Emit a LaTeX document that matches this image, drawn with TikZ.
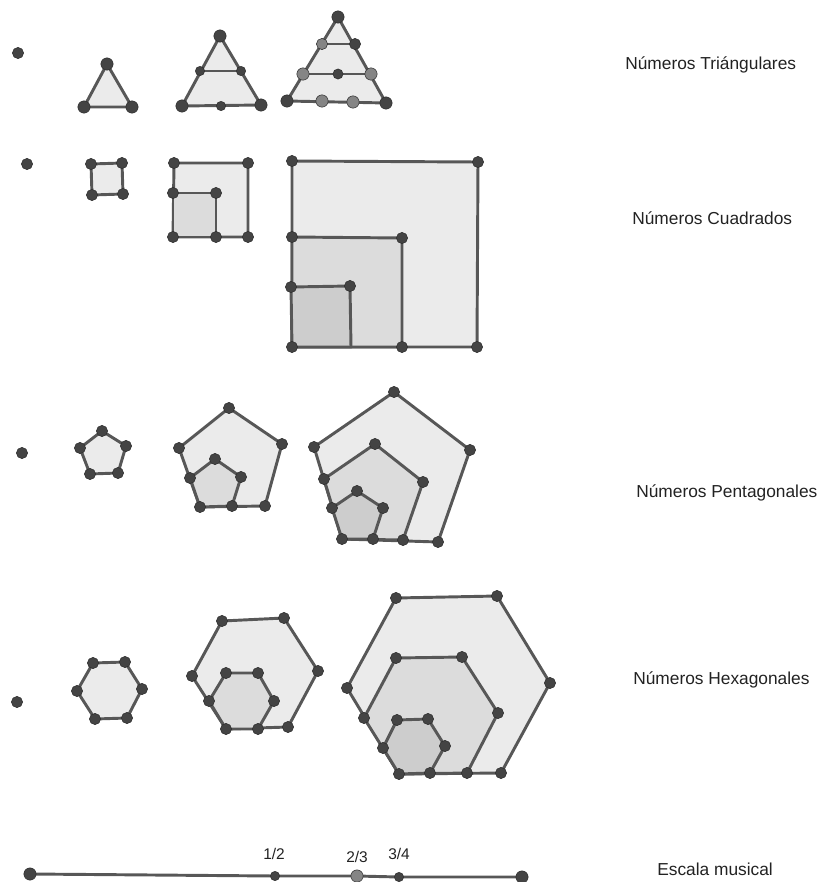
\documentclass[tikz,border=0pt]{standalone}
\usepackage{fontspec}
\setmainfont{Liberation Sans}
\usepackage{xcolor}
\definecolor{edgegray}{HTML}{575757}
\definecolor{fillA}{HTML}{EBEBEB}
\definecolor{fillB}{HTML}{DCDCDC}
\definecolor{fillC}{HTML}{CDCDCD}
\definecolor{dotdark}{HTML}{444444}
\definecolor{dotlight}{HTML}{858585}
\definecolor{dotrim}{HTML}{2E2E2E}
\definecolor{txtgray}{HTML}{222222}

\begin{document}
\begin{tikzpicture}[x=0.75pt, y=-0.75pt,
        face/.style={draw=edgegray, line width=2.2pt, line join=round},
        vtx/.style={fill=dotdark, draw=dotrim, line width=0.4pt},
        vtxl/.style={fill=dotlight, draw=dotrim, line width=0.4pt},
        lbl/.style={anchor=west, inner sep=0pt, text=txtgray, font=\fontsize{13}{15}\selectfont},
        frac/.style={inner sep=0pt, text=txtgray, font=\fontsize{11.6}{13}\selectfont}]
        \path[use as bounding box] (0,0) rectangle (819,882);

        % triangulares
        \coordinate (t0) at (18,53);
        \coordinate (t1a) at (107,64);
        \coordinate (t1b) at (132,107);
        \coordinate (t1c) at (84,107);
        \filldraw[face, fill=fillA] (t1a) -- (t1b) -- (t1c) -- cycle;

        \coordinate (t2a) at (220,36);
        \coordinate (t2b) at (261,105);
        \coordinate (t2c) at (182,106);
        \coordinate (t2l) at (200,71);
        \coordinate (t2r) at (241,71);
        \coordinate (t2m) at (221,106);
        \filldraw[face, fill=fillA] (t2a) -- (t2b) -- (t2c) -- cycle;
        \draw[face] (t2l) -- (t2r);

        \coordinate (t3a) at (338,17);
        \coordinate (t3b) at (386,103);
        \coordinate (t3c) at (287,101);
        \coordinate (t3d) at (322,44);
        \coordinate (t3e) at (355,44);
        \coordinate (t3f) at (303,74);
        \coordinate (t3g) at (338,74);
        \coordinate (t3h) at (371,74);
        \coordinate (t3i) at (322,101);
        \coordinate (t3j) at (353,102);
        \filldraw[face, fill=fillA] (t3a) -- (t3b) -- (t3c) -- cycle;
        \draw[face] (t3d) -- (t3e) (t3f) -- (t3h);

        \filldraw[vtx] (t0) circle [radius=4.2pt]
          (t1a) circle [radius=4.6pt] (t1b) circle [radius=4.6pt] (t1c) circle [radius=4.6pt]
          (t2a) circle [radius=4.6pt] (t2b) circle [radius=4.6pt] (t2c) circle [radius=4.6pt]
          (t2l) circle [radius=3.5pt] (t2r) circle [radius=3.5pt] (t2m) circle [radius=3.5pt]
          (t3a) circle [radius=4.6pt] (t3b) circle [radius=4.6pt] (t3c) circle [radius=4.6pt]
          (t3e) circle [radius=4.2pt] (t3g) circle [radius=3.8pt];
        \filldraw[vtxl] (t3d) circle [radius=4.2pt] (t3f) circle [radius=4.6pt]
          (t3h) circle [radius=4.6pt] (t3i) circle [radius=4.6pt] (t3j) circle [radius=4.6pt];
        \node[lbl] (ntri) at (625,65) {Números Triángulares};

        % cuadrados
        \coordinate (q0) at (27,164);
        \coordinate (q1a) at (91,164);
        \coordinate (q1b) at (122,163);
        \coordinate (q1c) at (123,194);
        \coordinate (q1d) at (92,195);
        \filldraw[face, fill=fillA] (q1a) -- (q1b) -- (q1c) -- (q1d) -- cycle;

        \coordinate (q2a) at (174,163);
        \coordinate (q2b) at (248,163);
        \coordinate (q2c) at (248,237);
        \coordinate (q2d) at (173,237);
        \coordinate (q2e) at (173,193);
        \coordinate (q2f) at (216,193);
        \coordinate (q2g) at (216,237);
        \filldraw[face, fill=fillA] (q2a) -- (q2b) -- (q2c) -- (q2d) -- cycle;
        \filldraw[face, fill=fillB] (q2e) -- (q2f) -- (q2g) -- (q2d) -- cycle;

        \coordinate (q3a) at (292,161);
        \coordinate (q3b) at (478,162);
        \coordinate (q3c) at (477,347);
        \coordinate (q3d) at (292,347);
        \coordinate (q3e) at (292,237);
        \coordinate (q3f) at (402,238);
        \coordinate (q3g) at (402,347);
        \coordinate (q3h) at (291,287);
        \coordinate (q3i) at (350,286);
        \coordinate (q3j) at (351,347);
        \filldraw[face, fill=fillA] (q3a) -- (q3b) -- (q3c) -- (q3d) -- cycle;
        \filldraw[face, fill=fillB] (q3e) -- (q3f) -- (q3g) -- (q3d) -- cycle;
        \filldraw[face, fill=fillC] (q3h) -- (q3i) -- (q3j) -- (q3d) -- cycle;

        \filldraw[vtx] (q0) circle [radius=4.2pt]
          (q1a) circle [radius=4.2pt] (q1b) circle [radius=4.2pt] (q1c) circle [radius=4.2pt] (q1d) circle [radius=4.2pt]
          (q2a) circle [radius=4.2pt] (q2b) circle [radius=4.2pt] (q2c) circle [radius=4.2pt] (q2d) circle [radius=4.2pt]
          (q2e) circle [radius=4.2pt] (q2f) circle [radius=4.2pt] (q2g) circle [radius=4.2pt]
          (q3a) circle [radius=4.2pt] (q3b) circle [radius=4.2pt] (q3c) circle [radius=4.2pt] (q3d) circle [radius=4.2pt]
          (q3e) circle [radius=4.2pt] (q3f) circle [radius=4.2pt] (q3g) circle [radius=4.2pt]
          (q3h) circle [radius=4.2pt] (q3i) circle [radius=4.2pt];
        \node[lbl] (ncua) at (632,218) {Números Cuadrados};

        % pentagonales
        \coordinate (p0) at (22,453);
        \coordinate (p1a) at (102,431);
        \coordinate (p1b) at (126,446);
        \coordinate (p1c) at (118,473);
        \coordinate (p1d) at (90,474);
        \coordinate (p1e) at (80,448);
        \filldraw[face, fill=fillA] (p1a) -- (p1b) -- (p1c) -- (p1d) -- (p1e) -- cycle;

        \coordinate (p2a) at (229,408);
        \coordinate (p2b) at (282,444);
        \coordinate (p2c) at (265,506);
        \coordinate (p2d) at (200,507);
        \coordinate (p2e) at (179,448);
        \coordinate (p2f) at (215,459);
        \coordinate (p2g) at (241,477);
        \coordinate (p2h) at (232,506);
        \coordinate (p2i) at (190,478);
        \filldraw[face, fill=fillA] (p2a) -- (p2b) -- (p2c) -- (p2d) -- (p2e) -- cycle;
        \filldraw[face, fill=fillB] (p2f) -- (p2g) -- (p2h) -- (p2d) -- (p2i) -- cycle;

        \coordinate (p3a) at (394,392);
        \coordinate (p3b) at (470,450);
        \coordinate (p3c) at (438,542);
        \coordinate (p3d) at (342,539);
        \coordinate (p3e) at (314,447);
        \coordinate (p3f) at (375,444);
        \coordinate (p3g) at (423,482);
        \coordinate (p3h) at (403,540);
        \coordinate (p3i) at (324,479);
        \coordinate (p3j) at (357,491);
        \coordinate (p3k) at (383,508);
        \coordinate (p3l) at (373,539);
        \coordinate (p3m) at (332,508);
        \filldraw[face, fill=fillA] (p3a) -- (p3b) -- (p3c) -- (p3d) -- (p3e) -- cycle;
        \filldraw[face, fill=fillB] (p3f) -- (p3g) -- (p3h) -- (p3d) -- (p3i) -- cycle;
        \filldraw[face, fill=fillC] (p3j) -- (p3k) -- (p3l) -- (p3d) -- (p3m) -- cycle;

        \filldraw[vtx] (p0) circle [radius=4.2pt]
          (p1a) circle [radius=4.2pt] (p1b) circle [radius=4.2pt] (p1c) circle [radius=4.2pt]
          (p1d) circle [radius=4.2pt] (p1e) circle [radius=4.2pt]
          (p2a) circle [radius=4.2pt] (p2b) circle [radius=4.2pt] (p2c) circle [radius=4.2pt]
          (p2d) circle [radius=4.2pt] (p2e) circle [radius=4.2pt] (p2f) circle [radius=4.2pt]
          (p2g) circle [radius=4.2pt] (p2h) circle [radius=4.2pt] (p2i) circle [radius=4.2pt]
          (p3a) circle [radius=4.2pt] (p3b) circle [radius=4.2pt] (p3c) circle [radius=4.2pt]
          (p3d) circle [radius=4.2pt] (p3e) circle [radius=4.2pt] (p3f) circle [radius=4.2pt]
          (p3g) circle [radius=4.2pt] (p3h) circle [radius=4.2pt] (p3i) circle [radius=4.2pt]
          (p3j) circle [radius=4.2pt] (p3k) circle [radius=4.2pt] (p3l) circle [radius=4.2pt]
          (p3m) circle [radius=4.2pt];
        \node[lbl] (npen) at (636,493) {Números Pentagonales};

        % hexagonales
        \coordinate (h0) at (17,702);
        \coordinate (h1a) at (93,663);
        \coordinate (h1b) at (125,662);
        \coordinate (h1c) at (142,689);
        \coordinate (h1d) at (127,718);
        \coordinate (h1e) at (95,719);
        \coordinate (h1f) at (77,691);
        \filldraw[face, fill=fillA] (h1a) -- (h1b) -- (h1c) -- (h1d) -- (h1e) -- (h1f) -- cycle;

        \coordinate (h2a) at (222,621);
        \coordinate (h2b) at (284,618);
        \coordinate (h2c) at (318,671);
        \coordinate (h2d) at (288,727);
        \coordinate (h2e) at (226,729);
        \coordinate (h2f) at (192,676);
        \coordinate (h2g) at (226,673);
        \coordinate (h2h) at (258,673);
        \coordinate (h2i) at (274,701);
        \coordinate (h2j) at (258,729);
        \coordinate (h2k) at (209,701);
        \filldraw[face, fill=fillA] (h2a) -- (h2b) -- (h2c) -- (h2d) -- (h2e) -- (h2f) -- cycle;
        \filldraw[face, fill=fillB] (h2g) -- (h2h) -- (h2i) -- (h2j) -- (h2e) -- (h2k) -- cycle;

        \coordinate (h3a) at (396,598);
        \coordinate (h3b) at (497,596);
        \coordinate (h3c) at (550,683);
        \coordinate (h3d) at (501,773);
        \coordinate (h3e) at (399,774);
        \coordinate (h3f) at (347,688);
        \coordinate (h3g) at (396,658);
        \coordinate (h3h) at (462,657);
        \coordinate (h3i) at (498,713);
        \coordinate (h3j) at (467,773);
        \coordinate (h3k) at (364,718);
        \coordinate (h3l) at (397,720);
        \coordinate (h3m) at (428,719);
        \coordinate (h3n) at (445,746);
        \coordinate (h3o) at (430,773);
        \coordinate (h3p) at (383,748);
        \filldraw[face, fill=fillA] (h3a) -- (h3b) -- (h3c) -- (h3d) -- (h3e) -- (h3f) -- cycle;
        \filldraw[face, fill=fillB] (h3g) -- (h3h) -- (h3i) -- (h3j) -- (h3e) -- (h3k) -- cycle;
        \filldraw[face, fill=fillC] (h3l) -- (h3m) -- (h3n) -- (h3o) -- (h3e) -- (h3p) -- cycle;

        \filldraw[vtx] (h0) circle [radius=4.2pt]
          (h1a) circle [radius=4.2pt] (h1b) circle [radius=4.2pt] (h1c) circle [radius=4.2pt]
          (h1d) circle [radius=4.2pt] (h1e) circle [radius=4.2pt] (h1f) circle [radius=4.2pt]
          (h2a) circle [radius=4.2pt] (h2b) circle [radius=4.2pt] (h2c) circle [radius=4.2pt]
          (h2d) circle [radius=4.2pt] (h2e) circle [radius=4.2pt] (h2f) circle [radius=4.2pt]
          (h2g) circle [radius=4.2pt] (h2h) circle [radius=4.2pt] (h2i) circle [radius=4.2pt]
          (h2j) circle [radius=4.2pt] (h2k) circle [radius=4.2pt]
          (h3a) circle [radius=4.2pt] (h3b) circle [radius=4.2pt] (h3c) circle [radius=4.2pt]
          (h3d) circle [radius=4.2pt] (h3e) circle [radius=4.2pt] (h3f) circle [radius=4.2pt]
          (h3g) circle [radius=4.2pt] (h3h) circle [radius=4.2pt] (h3i) circle [radius=4.2pt]
          (h3j) circle [radius=4.2pt] (h3k) circle [radius=4.2pt] (h3l) circle [radius=4.2pt]
          (h3m) circle [radius=4.2pt] (h3n) circle [radius=4.2pt] (h3o) circle [radius=4.2pt]
          (h3p) circle [radius=4.2pt];
        \node[lbl] (nhex) at (633,680) {Números Hexagonales};

        % escala musical
        \coordinate (e0) at (30,874);
        \coordinate (e1) at (275,876);
        \coordinate (e2) at (357,876);
        \coordinate (e3) at (399,877);
        \coordinate (e4) at (522,877);
        \draw[face] (e0) -- (e1) -- (e2) -- (e3) -- (e4);
        \filldraw[vtx] (e0) circle [radius=4.6pt] (e4) circle [radius=4.6pt]
          (e1) circle [radius=3.5pt] (e3) circle [radius=3.5pt];
        \filldraw[vtxl] (e2) circle [radius=4.6pt];
        \node[frac] (f12) at (274,854) {1/2};
        \node[frac] (f23) at (357,857) {2/3};
        \node[frac] (f34) at (399,854) {3/4};
        \node[lbl] (nesc) at (657,869) {Escala musical};
      \end{tikzpicture}
\end{document}
